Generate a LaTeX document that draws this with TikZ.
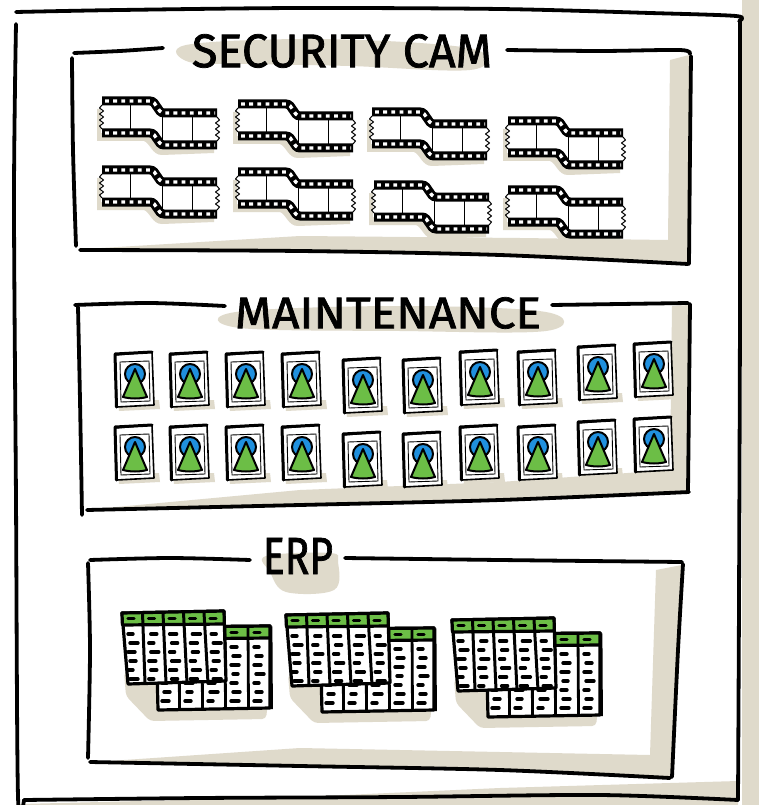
\documentclass[tikz,border=0pt]{standalone}
\usepackage{fontspec}
\newfontfamily\handfont{Fira Sans}[FakeBold=1.6]
\definecolor{beige}{RGB}{223,218,203}
\definecolor{icongreen}{RGB}{108,190,70}
\definecolor{iconblue}{RGB}{32,144,222}
\tikzset{
  ink/.style={line width=3.8, line cap=round, line join=round},
  titletext/.style={inner sep=0pt, font=\handfont},
  dashline/.style={line width=3.4, line cap=round},
  % film strip with perforated bands and a step in the middle
  filmstrip/.pic={
    \fill[beige] (-5,12) -- (42,12) .. controls (50,12) and (52,24) .. (60,24) -- (112,24)
      -- (112,56) -- (60,58) .. controls (50,58) and (48,46) .. (42,44) -- (-5,44) -- cycle;
    \fill[white] (-1,4) -- (48,4) .. controls (55,4) and (55,16) .. (62,16) -- (116,16)
      -- (116,48) -- (62,48) .. controls (55,48) and (55,36) .. (48,36) -- (-1,36) -- cycle;
    \draw[line width=1] (28,4) -- (28,36) (60,14) -- (60,46) (90,16) -- (90,48);
    \foreach \dy in {0,32} {
      \draw[line width=9] (0,4+\dy) -- (48,4+\dy) .. controls (55,4+\dy) and (55,16+\dy) .. (62,16+\dy) -- (115,16+\dy);
      \draw[white, line width=3.4, dash pattern=on 3.8 off 4.4] (3,4+\dy) -- (48,4+\dy) .. controls (55,4+\dy) and (55,16+\dy) .. (62,16+\dy) -- (113,16+\dy);
    }
    \draw[line width=1, line join=round] (0,8) -- (-2.5,11) -- (1.5,14) -- (-2.5,17) -- (1.5,20) -- (-2.5,23) -- (1.5,26) -- (-2.5,29) -- (0,32);
    \draw[line width=1, line join=round] (115,20) -- (117.5,23) -- (113.5,26) -- (117.5,29) -- (113.5,32) -- (117.5,35) -- (113.5,38) -- (117.5,41) -- (115,44);
  },
  % maintenance document with a tree symbol
  docicon/.pic={
    \fill[beige] (3,50) -- (44,48) -- (45,57) -- (4,59) -- cycle;
    \filldraw[fill=white, line width=1.6, line join=round] (0,3) -- (37,0) -- (39,53) -- (2,55) -- cycle;
    \draw[line width=3, line cap=round, line join=round] (1.5,55) -- (0,2) -- (37,0);
    \draw[line width=0.9] (5,10) -- (34,9) -- (35,49) -- (6,50) -- cycle;
    \filldraw[fill=iconblue, line width=2] (20,22) circle (10);
    \filldraw[fill=icongreen, line width=2, line join=round] (20,17) -- (32,45) .. controls (24,47) and (16,47) .. (8,45) -- cycle;
  },
  % two overlapping spreadsheets
  sheets/.pic={
    \fill[beige, rounded corners=4] (4,62) -- (36,62) -- (36,92) -- (148,92) -- (146,109) -- (30,111) -- (6,86) -- cycle;
    % back sheet
    \filldraw[fill=white, line width=3.2, line join=round] (36,17) -- (150,16) -- (150,98) -- (38,100) -- cycle;
    \filldraw[fill=icongreen, line width=3.2, line join=round] (36,17) -- (150,16) -- (150,28) -- (36,29) -- cycle;
    \foreach \cc in {0,...,4} {
      \draw[line width=2.8] ({59+\cc*23},16.5) -- ({59.5+\cc*23},99);
      \draw[dashline] ({42+\cc*23},22.5) -- ++(6,0);
      \foreach \rr in {0,...,6} {
        \pgfmathsetmacro\dlen{5+mod(\cc*3+\rr*5,4)}
        \pgfmathsetmacro\xs{42+\cc*23+mod(\rr,2)*2}
        \draw[dashline] (\xs,{37+\rr*9}) -- ++(\dlen,0);
      }
    }
    % front sheet
    \filldraw[fill=white, line width=3.2, line join=round] (2,3) -- (104,1) -- (106,71) -- (8,74) -- cycle;
    \filldraw[fill=icongreen, line width=3.2, line join=round] (2,3) -- (104,1) -- (104.3,14) -- (2.4,15) -- cycle;
    \foreach \cc in {1,...,4} {
      \draw[line width=3] ({2+\cc*20.5},2.6) -- ({4+\cc*21},73);
    }
    \foreach \cc in {0,...,4} {
      \draw[dashline] ({8+\cc*20.5},8.5) -- ++(6,0);
      \foreach \rr in {0,...,5} {
        \pgfmathsetmacro\dlen{5+mod(\cc*5+\rr*3,4)}
        \pgfmathsetmacro\xs{8+\cc*20.8+mod(\rr+\cc,2)*2}
        \draw[dashline] (\xs,{24+\rr*9}) -- ++(\dlen,0);
      }
    }
  }
}
\begin{document}
\begin{tikzpicture}[x=1pt,y=-1pt]
\useasboundingbox (0,0) rectangle (759,805);
\fill[white] (0,0) rectangle (759,805);

% ---- shadows of the frames ----
\fill[beige] (742,0) -- (759,0) -- (759,805) -- (742,805) -- cycle;
\fill[beige] (20,804) -- (300,797) -- (500,788) -- (738,781) -- (738,805) -- (20,805) -- cycle;
\fill[beige] (85,249) -- (300,236) -- (520,238) -- (668,240) -- (670,60) -- (689,55) -- (689,262) -- (500,255) -- (300,251) -- cycle;
\fill[beige] (95,509) -- (300,490) -- (500,482) -- (670,470) -- (672,306) -- (689,305) -- (688,492) -- (500,500) -- (300,505) -- cycle;
\fill[beige] (95,762) -- (300,748) -- (500,752) -- (650,755) -- (656,570) -- (682,565) -- (672,778) -- (500,770) -- (300,766) -- cycle;

% ---- title highlights ----
\fill[beige] plot[smooth cycle, tension=0.6] coordinates {(186,45) (300,39) (420,43) (482,52) (470,70) (350,66) (250,64) (189,62)};
\fill[beige] plot[smooth cycle, tension=0.6] coordinates {(236,312) (400,306) (546,312) (546,331) (400,331) (240,328)};
\fill[beige] plot[smooth cycle, tension=0.6] coordinates {(266,556) (330,553) (338,562) (334,590) (286,592) (270,572)};

% ---- outer frame ----
\draw[ink] plot[smooth, tension=0.5] coordinates {(16,12) (120,10) (300,8) (500,9) (650,13) (736,16) (739,21)};
\draw[ink] plot[smooth, tension=0.5] coordinates {(16,24) (14,200) (16,500) (18,796) (24,800)};
\draw[ink] plot[smooth, tension=0.5] coordinates {(24,800) (200,798) (400,797) (600,795) (738,800)};
\draw[ink] plot[smooth, tension=0.5] coordinates {(740,21) (740,300) (739,600) (738,800)};

% ---- security cam box ----
\draw[ink] plot[smooth, tension=0.5] coordinates {(74,53) (120,51) (163,48)};
\draw[ink] plot[smooth, tension=0.5] coordinates {(507,50) (600,51) (680,50) (690,54)};
\draw[ink] plot[smooth, tension=0.5] coordinates {(691,56) (690,150) (689,264)};
\draw[ink] plot[smooth, tension=0.5] coordinates {(72,58) (73,150) (76,246)};
\draw[ink] plot[smooth, tension=0.5] coordinates {(80,250) (300,251) (500,255) (688,264)};
\node[titletext] (sctitle) at (342,51) {\resizebox{300pt}{33pt}{SECURITY CAM}};

\foreach \x/\y in {102/97, 238/100, 372/108, 508/117, 102/166, 238/168, 374/181, 508/186}
  \pic at (\x,\y) {filmstrip};

% ---- maintenance box ----
\draw[ink] plot[smooth, tension=0.5] coordinates {(75,305) (150,303) (225,306)};
\draw[ink] plot[smooth, tension=0.5] coordinates {(552,305) (620,304) (688,303)};
\draw[ink] plot[smooth, tension=0.5] coordinates {(690,304) (689,400) (688,491)};
\draw[ink] plot[smooth, tension=0.5] coordinates {(78,307) (80,400) (82,515)};
\draw[ink] plot[smooth, tension=0.5] coordinates {(87,510) (300,505) (500,500) (689,492)};
\node[titletext] (mttitle) at (388,313) {\resizebox{306pt}{31pt}{MAINTENANCE}};

\foreach \x/\y in {115/352, 170/352, 226/352, 282/352, 343/358, 403/358, 460/350, 518/350, 578/345, 634/342,
                   115/425, 170/425, 226/425, 282/425, 343/432, 403/432, 460/425, 518/425, 578/420, 634/417}
  \pic at (\x,\y) {docicon};

% ---- ERP box ----
\draw[ink] plot[smooth, tension=0.5] coordinates {(90,560) (170,558) (250,560)};
\draw[ink] plot[smooth, tension=0.5] coordinates {(345,558) (500,560) (682,562)};
\draw[ink] plot[smooth, tension=0.5] coordinates {(683,564) (678,650) (672,777)};
\draw[ink] plot[smooth, tension=0.5] coordinates {(88,563) (90,650) (88,758)};
\draw[ink] plot[smooth, tension=0.5] coordinates {(90,762) (300,766) (500,770) (670,778)};
\node[titletext] (erptitle) at (298,556) {\resizebox{70pt}{36pt}{ERP}};

\pic at (120,610) {sheets};
\pic at (284,612) {sheets};
\pic at (450,617) {sheets};

\end{tikzpicture}
\end{document}
